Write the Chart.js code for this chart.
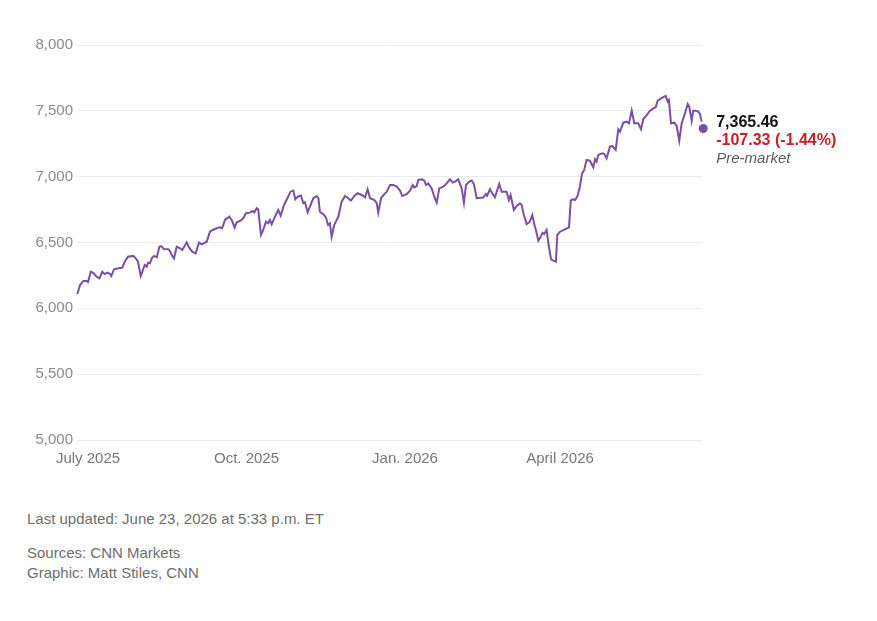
<!DOCTYPE html>
<html>
<head>
<meta charset="utf-8">
<script src="https://cdn.jsdelivr.net/npm/chart.js@4"></script>
<style>
  html, body { margin: 0; padding: 0; background: #fff; }
  body { width: 877px; height: 621px; position: relative; overflow: hidden;
         font-family: 'Liberation Sans', Arial, sans-serif; }
  #wrap { position: absolute; left: 0; top: 0; width: 877px; height: 490px; }
  .note { position: absolute; left: 27px; font-size: 15px; color: #6e6e6e; white-space: nowrap; }
</style>
</head>
<body>
<div id="wrap"><canvas id="c"></canvas></div>
<div class="note" style="top:510px">Last updated: June 23, 2026 at 5:33 p.m. ET</div>
<div class="note" style="top:544px">Sources: CNN Markets</div>
<div class="note" style="top:564px">Graphic: Matt Stiles, CNN</div>
<script>
// x = days since July 1, 2025, y = index level
const days = [
  -6.2, -4.6, -2.7, -0.8, 0, 1.6, 3.1, 5.0, 6.6, 8.3, 9.7, 11.2, 12.8, 13.5, 15.1, 17.0,
  19.9, 21.3, 23.2, 26.3, 27.7, 29.0, 30.6, 31.5, 32.9, 34.1, 34.8, 36.0, 37.0, 38.3,
  39.9, 41.4, 42.5, 44.1, 47.0, 48.6, 49.9, 51.5, 53.4, 54.7, 57.3, 58.6, 60.5, 62.5,
  64.4, 66.0, 68.9, 70.8, 72.4, 74.7, 76.6, 77.8, 79.5, 82.0, 83.4, 85.1, 86.3, 88.6,
  90.1, 91.7, 94.0, 95.6, 96.5, 97.9, 98.8, 100.4, 101.7, 103.3, 104.6, 105.6, 106.6,
  108.5, 110.4, 111.8, 113.8, 115.7, 117.6, 119.2, 120.3, 121.7, 123.6, 125.0, 125.9,
  127.5, 128.8, 130.8, 132.7, 133.7, 134.6, 136.6, 138.1, 139.3, 140.4, 141.4, 142.9,
  145.3, 147.2, 149.2, 151.1, 152.6, 154.6, 156.5, 158.9, 160.8, 162.3, 163.7, 166.2,
  167.6, 168.5, 170.1, 172.0, 173.4, 175.3, 177.2, 179.2, 181.1, 182.4, 185.0, 186.9,
  188.5, 189.4, 190.8, 191.7, 194.0, 195.2, 196.2, 197.5, 199.5, 201.0, 202.4, 203.9,
  206.2, 208.2, 210.1, 211.7, 213.0, 214.9, 216.9, 218.2, 219.4, 221.3, 222.7, 224.0,
  225.6, 229.4, 231.0, 231.7, 233.3, 234.9, 236.2, 238.7, 240.1, 243.0, 244.3, 245.3,
  247.2, 248.8, 250.7, 251.7, 253.0, 254.6, 256.5, 257.9, 259.4, 260.0, 261.4, 262.3,
  263.9, 264.8, 266.2, 267.6, 268.8, 270.1, 271.6, 272.4, 274.0, 276.8, 279.2, 280.2,
  281.3, 282.7, 284.2, 285.5, 286.8, 288.0, 289.4, 291.3, 293.3, 294.3, 295.2, 296.2,
  298.5, 299.7, 301.0, 303.0, 304.3, 306.3, 307.8, 308.8, 310.7, 312.7, 314.0, 315.6,
  317.1, 319.4, 321.0, 322.3, 324.3, 326.2, 328.2, 329.5, 330.7, 332.6, 334.5, 335.3,
  336.5, 337.2, 338.4, 340.3, 341.7, 343.2, 344.6, 346.5, 348.1, 349.0, 350.4, 351.3,
  352.7, 354.2, 355.2, 356.2
];
const closes = [
  6109, 6177, 6208, 6208, 6200, 6278, 6268, 6240, 6228, 6278, 6260, 6271, 6260, 6245, 6296, 6303,
  6309, 6354, 6392, 6398, 6380, 6354, 6245, 6278, 6329, 6316, 6347, 6342, 6380, 6398,
  6387, 6468, 6473, 6450, 6448, 6405, 6380, 6468, 6456, 6443, 6501, 6463, 6430, 6418,
  6499, 6486, 6506, 6582, 6595, 6608, 6615, 6608, 6671, 6696, 6671, 6613, 6653, 6666,
  6684, 6722, 6727, 6739, 6729, 6760, 6752, 6557, 6595, 6658, 6646, 6671, 6638,
  6696, 6747, 6704, 6785, 6836, 6886, 6894, 6828, 6848, 6856, 6798, 6805,
  6729, 6772, 6836, 6853, 6836, 6734, 6714, 6690, 6633, 6646, 6544, 6633,
  6696, 6810, 6853, 6836, 6818, 6853, 6874, 6861, 6843, 6904, 6836, 6823,
  6798, 6727, 6836, 6868, 6886, 6937, 6937, 6924, 6894, 6853, 6868, 6894,
  6937, 6919, 6929, 6975, 6980, 6970, 6937, 6949, 6911, 6848, 6803, 6911,
  6924, 6949, 6980, 6955, 6962, 6980, 6911, 6803, 6937, 6962, 6970, 6944,
  6836, 6841, 6868, 6855, 6904, 6868, 6843, 6944, 6886, 6886, 6823, 6861,
  6747, 6777, 6798, 6785, 6709, 6640, 6658, 6709, 6620, 6595, 6514, 6532,
  6574, 6565, 6595, 6463, 6372, 6362, 6354, 6557, 6582, 6600, 6615, 6818,
  6828, 6823, 6855, 6924, 7025, 7051, 7127, 7121, 7071, 7132, 7114, 7165,
  7177, 7172, 7139, 7228, 7233, 7203, 7360, 7342, 7410, 7418, 7405, 7501,
  7405, 7405, 7360, 7436, 7468, 7501, 7519, 7527, 7577, 7595, 7608, 7613,
  7570, 7582, 7405, 7410, 7385, 7273, 7405, 7481, 7552, 7532, 7425, 7501,
  7501, 7494, 7476, 7418
];

// pre-market quote
const lastDay = 357.1;
const lastValue = 7365.46;
const lastChange = '-107.33 (-1.44%)';
const lastLabel = 'Pre-market';

const xTickDays = [0, 92, 184, 274];
const xTickLabels = ['July 2025', 'Oct. 2025', 'Jan. 2026', 'April 2026'];
const yTicks = [5000, 5500, 6000, 6500, 7000, 7500, 8000];

const LINE_COLOR = '#7a4fa8';
const FONT = { family: "'Liberation Sans', Arial, sans-serif", size: 15 };

// Quote text next to the end dot
const quoteLabel = {
  id: 'quoteLabel',
  afterDatasetsDraw(chart) {
    const pt = chart.getDatasetMeta(1).data[0];
    if (!pt) return;
    const { ctx } = chart;
    const x = pt.x + 13;
    ctx.save();
    ctx.textBaseline = 'middle';
    ctx.textAlign = 'left';
    ctx.font = "bold 16px 'Liberation Sans', Arial, sans-serif";
    ctx.fillStyle = '#111';
    ctx.fillText(lastValue.toLocaleString('en-US', { minimumFractionDigits: 2 }), x, pt.y - 6);
    ctx.fillStyle = '#c8202a';
    ctx.fillText(lastChange, x, pt.y + 12);
    ctx.font = "italic 15px 'Liberation Sans', Arial, sans-serif";
    ctx.fillStyle = '#5a5a5a';
    ctx.fillText(lastLabel, x, pt.y + 30);
    ctx.restore();
  }
};

new Chart(document.getElementById('c'), {
  type: 'line',
  data: {
    datasets: [
      {
        data: days.map((d, i) => ({ x: d, y: closes[i] })),
        borderColor: LINE_COLOR,
        borderWidth: 2,
        pointRadius: 0,
        tension: 0,
        clip: false
      },
      {
        data: [{ x: lastDay, y: lastValue }],
        showLine: false,
        pointRadius: 4.5,
        pointBackgroundColor: LINE_COLOR,
        pointBorderWidth: 0,
        clip: false
      }
    ]
  },
  options: {
    responsive: true,
    maintainAspectRatio: false,
    animation: false,
    events: [],
    layout: { padding: { top: 45, right: 175, bottom: 10, left: 0 } },
    plugins: { legend: { display: false }, tooltip: { enabled: false } },
    scales: {
      x: {
        type: 'linear',
        min: -6.4,
        max: 356.4,
        afterBuildTicks(scale) { scale.ticks = xTickDays.map(v => ({ value: v })); },
        afterFit(scale) { scale.height = 40; },
        ticks: {
          color: '#777',
          font: FONT,
          padding: 10,
          maxRotation: 0,
          autoSkip: false,
          callback(val) { return xTickLabels[xTickDays.indexOf(val)]; }
        },
        grid: { display: false, drawTicks: false },
        border: { display: false }
      },
      y: {
        min: 5000,
        max: 8000,
        afterBuildTicks(scale) { scale.ticks = yTicks.map(v => ({ value: v })); },
        afterFit(scale) { scale.width = 77; },
        ticks: {
          color: '#8a8a8a',
          font: FONT,
          padding: 4,
          callback(val) { return val.toLocaleString('en-US'); }
        },
        grid: { color: '#ebebeb', drawTicks: false, lineWidth: 1 },
        border: { display: false }
      }
    }
  },
  plugins: [quoteLabel]
});
</script>
</body>
</html>
